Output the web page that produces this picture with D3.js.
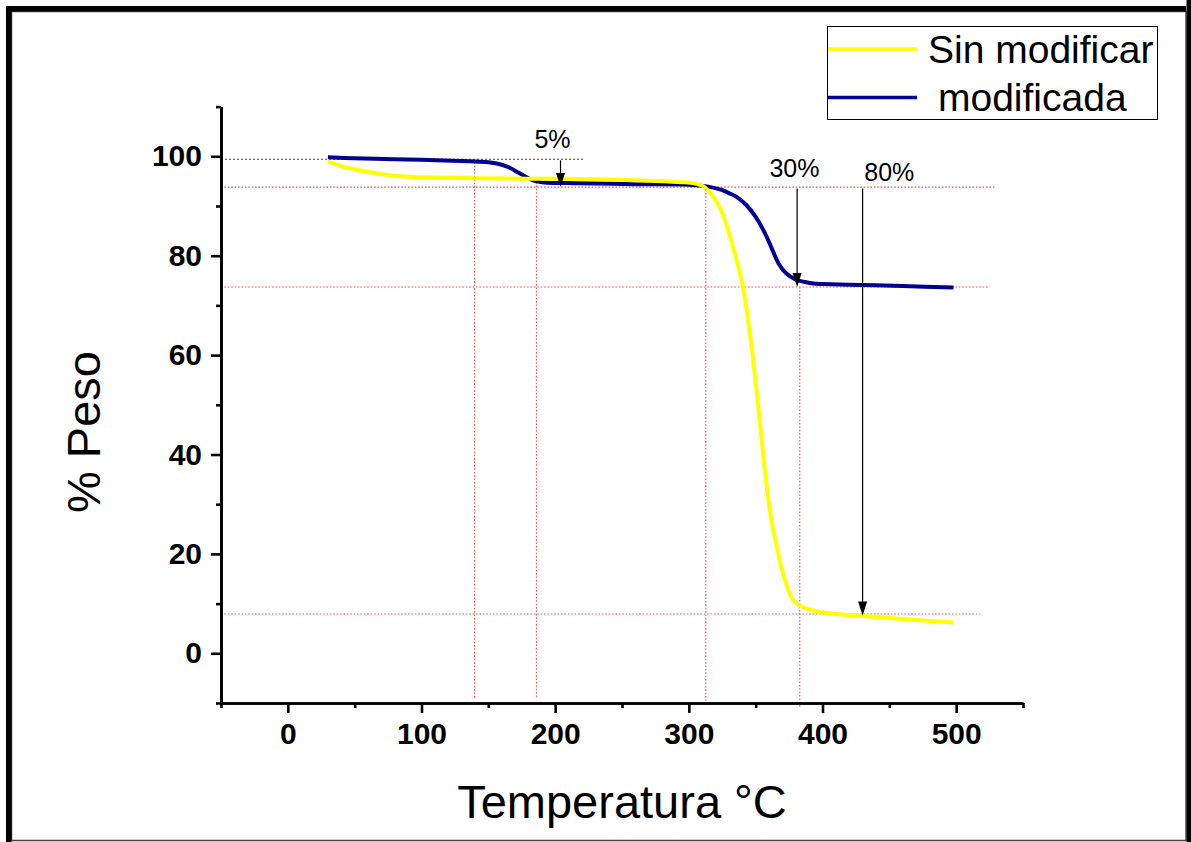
<!DOCTYPE html>
<html>
<head>
<meta charset="utf-8">
<script src="https://cdn.jsdelivr.net/npm/d3@7"></script>
<style>
  html, body { margin: 0; padding: 0; background: #fff; }
  svg { display: block; font-family: "Liberation Sans", Arial, sans-serif; }
</style>
</head>
<body>
<svg id="chart" width="1191" height="842"></svg>
<script>
// Thermogravimetric curves (temperature in °C, remaining weight in %)
const tempSin = [30, 40, 50, 66, 80, 91, 120, 141, 180, 233, 270, 295, 305, 310.5, 318, 325, 333, 340.5, 347, 352.5, 357.7, 362, 365.9, 369, 372, 375, 378, 383, 388, 398, 410, 430, 460, 498];
const pesoSin = [99.0, 98.0, 97.4, 96.6, 96.1, 95.9, 95.7, 95.6, 95.5, 95.4, 95.1, 94.8, 94.5, 94.0, 92.0, 88.6, 81.8, 73.7, 61.6, 48.3, 34.9, 26.5, 21.4, 17.5, 14.7, 12.4, 10.7, 9.6, 9.0, 8.3, 7.9, 7.5, 6.9, 6.2];

const tempMod = [30, 50, 80, 100, 136, 150, 160, 166, 172, 178, 183, 188, 194, 216, 260, 300, 312, 318, 324, 330, 336, 343, 350, 357, 362, 367, 373, 380, 387, 393, 400, 430, 460, 498];
const pesoMod = [99.8, 99.6, 99.4, 99.3, 99.0, 98.8, 98.3, 97.7, 96.8, 95.9, 95.2, 94.85, 94.7, 94.6, 94.4, 94.3, 94.0, 93.7, 93.3, 92.6, 91.8, 90.2, 87.8, 84.5, 81.5, 78.5, 76.4, 75.2, 74.7, 74.4, 74.3, 74.1, 73.9, 73.6];

const seriesNames = ["Sin modificar", "modificada"];
const seriesColors = ["#ffff00", "#000092"];

// Axis ticks
const xMajorTicks = [0, 100, 200, 300, 400, 500];
const xMinorTicks = [-50, 50, 150, 250, 350, 450, 550];
const yMajorTicks = [0, 20, 40, 60, 80, 100];
const yMinorTicks = [-10, 10, 30, 50, 70, 90, 110];

// Dotted reference lines: horizontal [y, x0, x1], vertical [x, y0, y1]
const refH = [[93.8, -50, 529], [73.7, -50, 525], [7.9, -50, 518]];
const refTop = [99.4, -50, 222];
const refV = [[139.7, 98.8, -9], [186, 95.5, -9], [312.7, 94.0, -10.5], [383, 73.7, -11]];

// Weight-loss markers: [x, yStart, yTip, label, labelX, labelY]
const arrows = [
  [204, 99.2, 93.8, "5%", 198, 101.6],
  [381, 93.5, 73.7, "30%", 379, 95.8],
  [430, 93.5, 7.6, "80%", 450, 95.0]
];

const svg = d3.select("#chart");

const x = d3.scaleLinear().domain([-50, 550]).range([221, 1023]);
const y = d3.scaleLinear().domain([-10, 110]).range([703, 106.6]);

// Outer frame
svg.append("rect").attr("x", 11.5).attr("y", 11.5).attr("width", 1174.5).attr("height", 829)
  .attr("fill", "none").attr("stroke", "#444").attr("stroke-width", 1.5);
svg.append("rect").attr("x", 6).attr("y", 6).attr("width", 5.5).attr("height", 836).attr("fill", "#000");
svg.append("rect").attr("x", 6).attr("y", 6).attr("width", 1180).attr("height", 5.5).attr("fill", "#000");
svg.append("rect").attr("x", 1186.5).attr("y", 0).attr("width", 4.5).attr("height", 842).attr("fill", "#000");

// Reference grid lines
const refG = svg.append("g").attr("fill", "none").attr("stroke", "#ff3030")
  .attr("stroke-width", 1.1).attr("stroke-dasharray", "1.6,1.8").attr("opacity", 0.85);
refH.forEach(d => {
  refG.append("line").attr("x1", x(d[1])).attr("x2", x(d[2])).attr("y1", y(d[0])).attr("y2", y(d[0]));
});
refV.forEach(d => {
  refG.append("line").attr("x1", x(d[0])).attr("x2", x(d[0])).attr("y1", y(d[1])).attr("y2", y(d[2]));
});
svg.append("line").attr("x1", x(refTop[1])).attr("x2", x(refTop[2]))
  .attr("y1", y(refTop[0])).attr("y2", y(refTop[0]))
  .attr("stroke", "#b01010").attr("stroke-width", 1.1).attr("stroke-dasharray", "2,2");

// Axes
function styleAxis(g) {
  g.selectAll("path.domain").attr("stroke", "#000").attr("stroke-width", 2.6);
  g.selectAll(".tick line").attr("stroke", "#000").attr("stroke-width", 2.6);
}
const xAxisG = svg.append("g").attr("transform", "translate(0,703)")
  .call(d3.axisBottom(x).tickValues(xMajorTicks).tickSize(10).tickSizeOuter(0).tickPadding(10).tickFormat(d3.format("d")));
svg.append("g").attr("transform", "translate(0,703)")
  .call(d3.axisBottom(x).tickValues(xMinorTicks).tickSize(5).tickSizeOuter(0).tickFormat(""))
  .call(styleAxis);
styleAxis(xAxisG);
xAxisG.selectAll("text").attr("font-size", 30).attr("font-weight", "bold").attr("fill", "#000")
  .attr("font-family", "'Liberation Sans', Arial, sans-serif");

const yAxisG = svg.append("g").attr("transform", "translate(221,0)")
  .call(d3.axisLeft(y).tickValues(yMajorTicks).tickSize(10).tickSizeOuter(0).tickPadding(9).tickFormat(d3.format("d")));
svg.append("g").attr("transform", "translate(221,0)")
  .call(d3.axisLeft(y).tickValues(yMinorTicks).tickSize(5).tickSizeOuter(0).tickFormat(""))
  .call(styleAxis);
styleAxis(yAxisG);
yAxisG.selectAll("text").attr("font-size", 30).attr("font-weight", "bold").attr("fill", "#000")
  .attr("font-family", "'Liberation Sans', Arial, sans-serif");

// Axis titles
svg.append("text").attr("x", 622).attr("y", 818).attr("text-anchor", "middle")
  .attr("font-size", 47).attr("fill", "#000").text("Temperatura °C");
svg.append("text").attr("transform", "translate(100,432) rotate(-90)").attr("text-anchor", "middle")
  .attr("font-size", 47).attr("fill", "#000").text("% Peso");

// Curves (centripetal Catmull-Rom keeps the sigmoid steps smooth without overshoot)
const line = d3.line().x(d => x(d[0])).y(d => y(d[1])).curve(d3.curveCatmullRom.alpha(0.5));
const modData = tempMod.map((t, i) => [t, pesoMod[i]]);
const sinData = tempSin.map((t, i) => [t, pesoSin[i]]);
svg.append("path").datum(modData).attr("d", line).attr("fill", "none")
  .attr("stroke", seriesColors[1]).attr("stroke-width", 4).attr("stroke-linejoin", "round");
svg.append("path").datum(sinData).attr("d", line).attr("fill", "none")
  .attr("stroke", seriesColors[0]).attr("stroke-width", 4).attr("stroke-linejoin", "round");

// Arrows with percentage labels
const arrowG = svg.append("g");
arrows.forEach(a => {
  const ax = x(a[0]), y0 = y(a[1]), yt = y(a[2]);
  arrowG.append("line").attr("x1", ax).attr("x2", ax).attr("y1", y0).attr("y2", yt - 10)
    .attr("stroke", "#000").attr("stroke-width", 1.2);
  arrowG.append("path")
    .attr("d", `M${ax - 4.5},${yt - 14} L${ax + 4.5},${yt - 14} L${ax},${yt} Z`)
    .attr("fill", "#000");
  arrowG.append("text").attr("x", x(a[4])).attr("y", y(a[5])).attr("text-anchor", "middle")
    .attr("font-size", 25).attr("fill", "#000").text(a[3]);
});

// Legend
const leg = svg.append("g");
leg.append("rect").attr("x", 827.5).attr("y", 26.5).attr("width", 330).attr("height", 93)
  .attr("fill", "#fff").attr("stroke", "#000").attr("stroke-width", 1);
const legY = [49, 97.5];
const legTextX = [928, 938];
const legTextY = [62.7, 110.7];
seriesNames.forEach((name, i) => {
  leg.append("line").attr("x1", 828).attr("x2", 917).attr("y1", legY[i]).attr("y2", legY[i])
    .attr("stroke", seriesColors[i]).attr("stroke-width", 3.5);
  leg.append("text").attr("x", legTextX[i]).attr("y", legTextY[i])
    .attr("font-size", 39).attr("fill", "#000").text(name);
});
</script>
</body>
</html>
